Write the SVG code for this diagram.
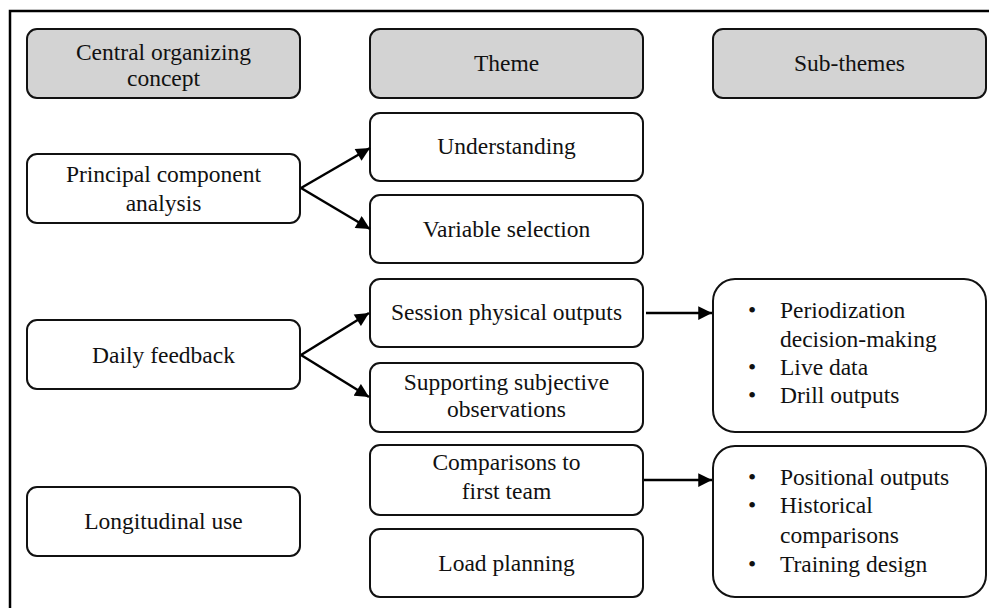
<svg xmlns="http://www.w3.org/2000/svg" width="989" height="608" viewBox="0 0 989 608">
<defs>
<style>
.box{fill:#fff;stroke:#111;stroke-width:2}
.hdr{fill:#d3d3d3;stroke:#111;stroke-width:2}
text{font-family:"Liberation Serif","Times New Roman",serif;font-size:23.5px;fill:#111}
.c{text-anchor:middle}
.conn{stroke:#000;stroke-width:2.5;fill:none;marker-end:url(#ah)}
</style>
<marker id="ah" viewBox="0 0 10 10" refX="10" refY="5" markerWidth="6" markerHeight="5.5" markerUnits="strokeWidth" orient="auto">
<path d="M0,0 L10,5 L0,10 z" fill="#000"/>
</marker>
</defs>
<rect width="989" height="608" fill="#fff"/>
<path d="M10,608 V11 H989" stroke="#000" stroke-width="2.5" fill="none"/>

<g id="h1"><rect class="hdr" x="27" y="29" width="273" height="69" rx="10"/><text class="c" x="163.5" y="60">Central organizing</text><text class="c" x="163.5" y="86">concept</text></g>
<g id="h2"><rect class="hdr" x="370" y="29" width="273" height="69" rx="10"/><text class="c" x="506.5" y="71">Theme</text></g>
<g id="h3"><rect class="hdr" x="713" y="29" width="273" height="69" rx="10"/><text class="c" x="849.5" y="71">Sub-themes</text></g>

<g id="pca"><rect class="box" x="27" y="154" width="273" height="69" rx="10"/><text class="c" x="163.5" y="182">Principal component</text><text class="c" x="163.5" y="211">analysis</text></g>
<g id="daily"><rect class="box" x="27" y="320" width="273" height="69" rx="10"/><text class="c" x="163.5" y="363">Daily feedback</text></g>
<g id="long"><rect class="box" x="27" y="487" width="273" height="69" rx="10"/><text class="c" x="163.5" y="529">Longitudinal use</text></g>

<g id="und"><rect class="box" x="370" y="113" width="273" height="68" rx="10"/><text class="c" x="506.5" y="154">Understanding</text></g>
<g id="var"><rect class="box" x="370" y="195" width="273" height="68" rx="10"/><text class="c" x="506.5" y="237">Variable selection</text></g>
<g id="sess"><rect class="box" x="370" y="279" width="273" height="68" rx="10"/><text class="c" x="506.5" y="320">Session physical outputs</text></g>
<g id="supp"><rect class="box" x="370" y="363" width="273" height="69" rx="10"/><text class="c" x="506.5" y="390">Supporting subjective</text><text class="c" x="506.5" y="417">observations</text></g>
<g id="comp"><rect class="box" x="370" y="445" width="273" height="70" rx="10"/><text class="c" x="506.5" y="470">Comparisons to</text><text class="c" x="506.5" y="499">first team</text></g>
<g id="load"><rect class="box" x="370" y="529" width="273" height="68" rx="10"/><text class="c" x="506.5" y="571">Load planning</text></g>

<g id="sub1"><rect class="box" x="713" y="279" width="273" height="153" rx="22"/>
<text x="748" y="318">•</text><text x="780" y="318">Periodization</text>
<text x="780" y="347">decision-making</text>
<text x="748" y="375">•</text><text x="780" y="375">Live data</text>
<text x="748" y="403">•</text><text x="780" y="403">Drill outputs</text></g>
<g id="sub2"><rect class="box" x="713" y="446" width="273" height="151" rx="22"/>
<text x="748" y="485">•</text><text x="780" y="485">Positional outputs</text>
<text x="748" y="513">•</text><text x="780" y="513">Historical</text>
<text x="780" y="543">comparisons</text>
<text x="748" y="572">•</text><text x="780" y="572">Training design</text></g>

<g id="connectors">
<line class="conn" x1="301" y1="188" x2="370" y2="148"/>
<line class="conn" x1="301" y1="188" x2="370" y2="229"/>
<line class="conn" x1="301" y1="355" x2="369" y2="313"/>
<line class="conn" x1="301" y1="355" x2="369" y2="397"/>
<line class="conn" x1="646" y1="313" x2="712" y2="313"/>
<line class="conn" x1="644" y1="480" x2="712" y2="480"/>
</g>
</svg>
